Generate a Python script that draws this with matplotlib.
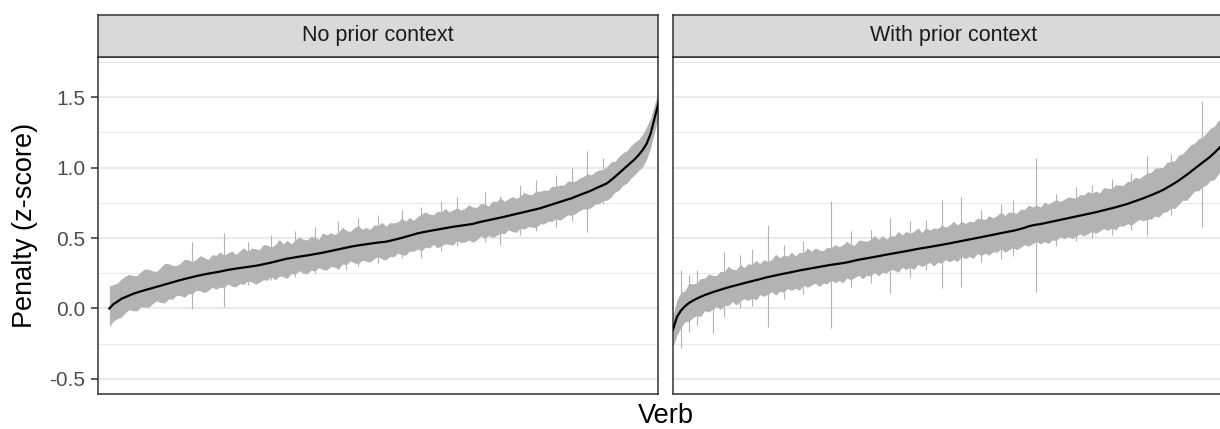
import numpy as np
import matplotlib.pyplot as plt

plt.rcParams['font.family'] = ['Liberation Sans', 'DejaVu Sans']

panels = ["No prior context", "With prior context"]

# mean penalty per verb, verbs sorted by mean
no_ctx_mean = [
    0.000, 0.030, 0.048, 0.068, 0.080, 0.092, 0.104, 0.113, 0.122, 0.130,
    0.138, 0.146, 0.154, 0.162, 0.170, 0.178, 0.186, 0.194, 0.202, 0.209,
    0.216, 0.223, 0.230, 0.236, 0.242, 0.247, 0.252, 0.257, 0.262, 0.268,
    0.274, 0.278, 0.283, 0.287, 0.291, 0.295, 0.299, 0.303, 0.308, 0.314,
    0.320, 0.326, 0.333, 0.340, 0.347, 0.354, 0.358, 0.363, 0.368, 0.372,
    0.376, 0.381, 0.386, 0.391, 0.396, 0.402, 0.408, 0.414, 0.420, 0.426,
    0.432, 0.438, 0.443, 0.448, 0.452, 0.456, 0.460, 0.464, 0.468, 0.471,
    0.474, 0.480, 0.487, 0.494, 0.501, 0.509, 0.517, 0.525, 0.533, 0.539,
    0.545, 0.550, 0.555, 0.560, 0.565, 0.570, 0.575, 0.580, 0.584, 0.588,
    0.592, 0.596, 0.600, 0.608, 0.615, 0.621, 0.627, 0.633, 0.639, 0.645,
    0.651, 0.658, 0.665, 0.671, 0.678, 0.684, 0.691, 0.698, 0.704, 0.711,
    0.720, 0.729, 0.738, 0.747, 0.756, 0.765, 0.774, 0.782, 0.794, 0.805,
    0.816, 0.826, 0.838, 0.851, 0.864, 0.876, 0.889, 0.912, 0.935, 0.960,
    0.985, 1.010, 1.035, 1.060, 1.090, 1.125, 1.170, 1.240, 1.350, 1.460,
]
# distance from mean to upper / lower interval bound
no_ctx_hi = [
    .16, .14, .13, .14, .15, .15, .13, .12, .14, .15,
    .14, .12, .11, .13, .15, .14, .12, .11, .12, .14,
    .13, .11, .12, .14, .12, .10, .13, .12, .14, .11,
    .12, .13, .10, .12, .14, .11, .13, .12, .11, .14,
    .13, .11, .12, .15, .11, .13, .10, .12, .14, .12,
    .11, .13, .12, .10, .14, .12, .13, .11, .12, .15,
    .12, .11, .13, .14, .11, .12, .10, .13, .12, .14,
    .11, .13, .12, .12, .14, .11, .13, .10, .12, .13,
    .14, .12, .11, .13, .12, .14, .11, .12, .13, .11,
    .12, .14, .12, .11, .13, .12, .10, .13, .12, .14,
    .11, .12, .13, .11, .12, .14, .12, .11, .13, .12,
    .12, .11, .13, .12, .12, .11, .13, .12, .11, .12,
    .12, .13, .11, .12, .12, .11, .12, .13, .11, .12,
    .12, .11, .12, .12, .11, .11, .12, .11, .10, .09,
]
no_ctx_lo = [
    .13, .12, .12, .13, .11, .10, .12, .13, .11, .12,
    .13, .11, .10, .12, .13, .11, .12, .10, .11, .13,
    .11, .12, .10, .11, .13, .12, .10, .12, .11, .12,
    .10, .12, .13, .11, .12, .10, .11, .13, .12, .11,
    .12, .10, .13, .11, .12, .14, .11, .12, .10, .12,
    .13, .11, .12, .10, .12, .13, .11, .12, .14, .11,
    .12, .10, .12, .13, .11, .12, .13, .11, .10, .12,
    .13, .11, .12, .10, .12, .13, .11, .12, .11, .13,
    .11, .12, .10, .13, .12, .11, .12, .13, .10, .12,
    .12, .11, .13, .12, .10, .12, .11, .13, .12, .11,
    .12, .10, .12, .13, .11, .12, .11, .12, .13, .11,
    .12, .11, .12, .11, .13, .12, .11, .12, .12, .11,
    .11, .12, .12, .11, .12, .11, .12, .12, .11, .12,
    .11, .12, .11, .11, .11, .12, .11, .10, .10, .09,
]
# single verbs with wide intervals: (rank, lower, upper)
no_ctx_spikes = [
    (21, -0.005, 0.47), (29, 0.01, 0.535), (35, 0.17, 0.47), (41, 0.20, 0.52),
    (47, 0.22, 0.55), (52, 0.25, 0.58), (58, 0.28, 0.62), (60, 0.27, 0.56),
    (63, 0.30, 0.64), (68, 0.32, 0.66), (74, 0.36, 0.70), (79, 0.36, 0.72),
    (84, 0.41, 0.76), (88, 0.44, 0.79), (95, 0.47, 0.83), (99, 0.45, 0.80),
    (104, 0.52, 0.88), (108, 0.55, 0.91), (113, 0.58, 0.95), (117, 0.62, 1.00),
    (121, 0.545, 1.12), (125, 0.74, 1.07),
]

ctx_mean = [
    -0.150, -0.060, -0.015, 0.015, 0.038, 0.055, 0.070, 0.083, 0.095, 0.105,
    0.115, 0.124, 0.133, 0.142, 0.150, 0.158, 0.165, 0.172, 0.180, 0.187,
    0.194, 0.201, 0.208, 0.216, 0.223, 0.229, 0.235, 0.241, 0.247, 0.252,
    0.258, 0.264, 0.270, 0.275, 0.280, 0.285, 0.290, 0.295, 0.300, 0.305,
    0.310, 0.314, 0.318, 0.322, 0.327, 0.333, 0.340, 0.346, 0.351, 0.356,
    0.361, 0.366, 0.371, 0.377, 0.382, 0.387, 0.392, 0.397, 0.402, 0.407,
    0.412, 0.418, 0.423, 0.428, 0.432, 0.437, 0.442, 0.447, 0.452, 0.457,
    0.462, 0.468, 0.473, 0.479, 0.484, 0.490, 0.495, 0.501, 0.506, 0.512,
    0.518, 0.523, 0.529, 0.535, 0.540, 0.546, 0.551, 0.557, 0.565, 0.573,
    0.583, 0.590, 0.595, 0.599, 0.605, 0.611, 0.617, 0.623, 0.629, 0.635,
    0.641, 0.647, 0.653, 0.659, 0.665, 0.671, 0.677, 0.683, 0.690, 0.697,
    0.704, 0.711, 0.718, 0.726, 0.734, 0.742, 0.752, 0.762, 0.772, 0.782,
    0.793, 0.804, 0.816, 0.828, 0.841, 0.857, 0.873, 0.890, 0.908, 0.928,
    0.948, 0.970, 0.993, 1.015, 1.035, 1.056, 1.078, 1.104, 1.132, 1.160,
    1.195, 1.235,
]
ctx_hi = [
    .10, .12, .13, .11, .14, .12, .11, .13, .12, .14,
    .12, .11, .13, .12, .15, .12, .11, .14, .11, .13,
    .12, .14, .11, .13, .11, .12, .15, .12, .13, .12,
    .14, .11, .13, .12, .15, .12, .14, .12, .11, .13,
    .12, .14, .12, .13, .15, .12, .11, .14, .13, .12,
    .13, .15, .12, .14, .11, .13, .12, .15, .12, .14,
    .12, .13, .15, .11, .14, .12, .13, .12, .14, .12,
    .13, .15, .12, .14, .12, .13, .12, .14, .13, .12,
    .14, .12, .13, .15, .12, .14, .13, .12, .14, .13,
    .15, .13, .14, .12, .15, .13, .14, .15, .13, .14,
    .15, .14, .13, .15, .14, .16, .14, .15, .13, .16,
    .15, .14, .16, .15, .14, .16, .15, .17, .15, .16,
    .17, .16, .18, .17, .16, .18, .17, .16, .18, .17,
    .18, .19, .18, .19, .18, .19, .20, .19, .20, .19,
    .20, .19,
]
ctx_lo = [
    .12, .13, .12, .11, .13, .12, .12, .14, .11, .13,
    .12, .11, .14, .12, .13, .11, .14, .12, .11, .13,
    .12, .14, .11, .13, .12, .11, .14, .12, .13, .11,
    .13, .12, .14, .11, .13, .12, .11, .14, .12, .13,
    .11, .13, .12, .14, .11, .13, .12, .11, .14, .12,
    .13, .11, .14, .12, .13, .11, .12, .14, .11, .13,
    .12, .14, .11, .13, .12, .11, .14, .12, .13, .11,
    .13, .12, .14, .11, .13, .12, .14, .11, .13, .12,
    .14, .12, .13, .11, .14, .13, .12, .14, .13, .12,
    .14, .13, .12, .14, .13, .15, .13, .14, .12, .14,
    .13, .15, .14, .13, .15, .14, .13, .15, .14, .13,
    .15, .14, .16, .14, .15, .14, .16, .15, .14, .16,
    .16, .17, .16, .18, .16, .17, .16, .18, .17, .16,
    .18, .17, .16, .18, .17, .18, .17, .19, .18, .17,
    .18, .19,
]
ctx_spikes = [
    (2, -0.28, 0.27), (4, -0.17, 0.24), (6, -0.12, 0.27), (10, -0.175, 0.22),
    (13, -0.06, 0.40), (17, 0.0, 0.38), (20, 0.02, 0.42), (24, -0.13, 0.59),
    (28, 0.07, 0.45), (33, 0.10, 0.48), (40, -0.14, 0.76), (45, 0.15, 0.55),
    (50, 0.18, 0.56), (55, 0.11, 0.64), (60, 0.22, 0.62), (64, 0.27, 0.63),
    (68, 0.144, 0.77), (73, 0.154, 0.79), (78, 0.33, 0.70), (83, 0.35, 0.74),
    (86, 0.37, 0.77), (92, 0.118, 1.067), (97, 0.44, 0.81), (102, 0.48, 0.86),
    (106, 0.50, 0.88), (111, 0.52, 0.92), (116, 0.56, 0.96), (120, 0.52, 1.08),
    (126, 0.66, 1.10), (134, 0.58, 1.47),
]

series = [
    (no_ctx_mean, no_ctx_lo, no_ctx_hi, no_ctx_spikes, (-3.0, 139.0)),
    (ctx_mean, ctx_lo, ctx_hi, ctx_spikes, (0.0, 142.0)),
]

W, H = 1220, 429
fig = plt.figure(figsize=(W / 100, H / 100), dpi=100)


def add_px_axes(x0, y0, w, h):
    return fig.add_axes([x0 / W, 1 - (y0 + h) / H, w / W, h / H])


ribbon_col = "#B3B3B3"
border_col = "#333333"
panel_left = [97.5, 673.0]
panel_w = 561.0

for k, (mean, lo, hi, spikes, xlim) in enumerate(series):
    mean = np.array(mean)
    rank = np.arange(len(mean))
    ax = add_px_axes(panel_left[k], 57.0, panel_w, 337.0)

    ax.fill_between(rank, mean - np.array(lo), mean + np.array(hi),
                    color=ribbon_col, lw=0, zorder=2)
    for r, s_lo, s_hi in spikes:
        ax.vlines(r, s_lo, s_hi, color=ribbon_col, lw=0.8, zorder=2)
    ax.plot(rank, mean, color="black", lw=1.6, zorder=3)

    ax.set_xlim(*xlim)
    ax.set_ylim(-0.607, 1.785)
    ax.set_yticks([-0.5, 0.0, 0.5, 1.0, 1.5])
    ax.set_yticks([-0.25, 0.25, 0.75, 1.25, 1.75], minor=True)
    ax.grid(axis="y", which="major", color="#EBEBEB", lw=1.6, zorder=0)
    ax.grid(axis="y", which="minor", color="#EBEBEB", lw=0.9, zorder=0)
    ax.set_xticks([])
    ax.tick_params(axis="y", which="minor", length=0)
    ax.tick_params(axis="y", which="major", length=5, width=1.1,
                   color=border_col, labelsize=15, labelcolor="#4D4D4D",
                   pad=4)
    if k == 0:
        ax.set_yticklabels(["-0.5", "0.0", "0.5", "1.0", "1.5"])
        ax.set_ylabel("Penalty (z-score)", fontsize=19.5, labelpad=8)
    else:
        ax.tick_params(axis="y", labelleft=False, length=0)
    for sp in ax.spines.values():
        sp.set_color(border_col)
        sp.set_linewidth(1.1)
    ax.set_axisbelow(True)

    strip = add_px_axes(panel_left[k], 15.0, panel_w, 42.0)
    strip.set_facecolor("#D9D9D9")
    strip.set_xticks([])
    strip.set_yticks([])
    for sp in strip.spines.values():
        sp.set_color(border_col)
        sp.set_linewidth(1.1)
    strip.text(0.5, 0.5, panels[k], ha="center", va="center",
               fontsize=15.5, color="#1A1A1A", transform=strip.transAxes)

fig.text(665.5 / W, 1 - 416 / H, "Verb", ha="center", va="center", fontsize=19.5)

fig.savefig("out.png", dpi=100)
